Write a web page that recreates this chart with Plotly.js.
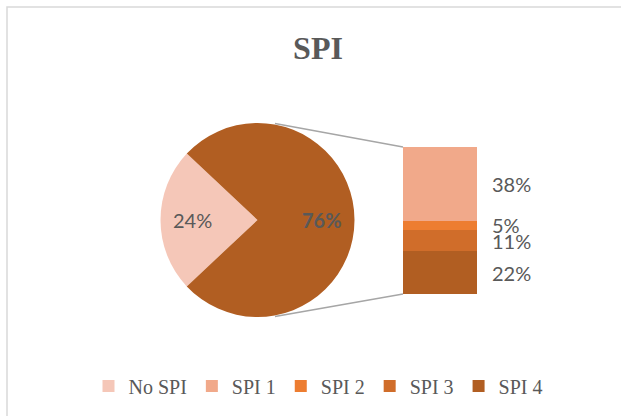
<!DOCTYPE html>
<html>
<head>
<meta charset="utf-8">
<script src="https://cdn.plot.ly/plotly-3.0.1.min.js"></script>
<style>html,body{margin:0;padding:0;background:#fff;}#chart{width:621px;height:416px;}</style>
</head>
<body>
<div id="chart"></div>
<script>
// ---- data ----
const pieLabels = ['No SPI', 'SPI'];
const pieValues = [24, 76];
const pieColors = ['#F5C7B8', '#B15E22'];

const barLabels = ['SPI 1', 'SPI 2', 'SPI 3', 'SPI 4'];
const barValues = [38, 5, 11, 22];
const barColors = ['#F1A98A', '#ED7D31', '#D06D2A', '#B15E22'];

const W = 621, H = 416;
const px = x => x / W;
const py = y => 1 - y / H;
const labelFont = {family: 'Lato, "Open Sans", sans-serif', size: 20, color: '#595959'};

// pie geometry (pixels)
const pieCx = 257.5, pieCy = 220, pieR = 97;
const pieTotal = pieValues.reduce((a, b) => a + b, 0);
const rotation = 360 * (0.75 - pieValues[0] / pieTotal / 2);

const traces = [];
traces.push({
  type: 'pie', labels: pieLabels, values: pieValues, sort: false,
  direction: 'clockwise', rotation: rotation,
  marker: {colors: pieColors, line: {width: 0}},
  textinfo: 'none', showlegend: false, hoverinfo: 'skip',
  domain: {x: [px(pieCx - pieR), px(pieCx + pieR)], y: [py(pieCy + pieR), py(pieCy - pieR)]}
});
// legend entry for No SPI (zero-height bar)
traces.push({type: 'bar', name: pieLabels[0], x: [0], y: [0], marker: {color: pieColors[0], line: {width: 0}}, hoverinfo: 'skip', width: 1});
// stacked bar (bottom to top: SPI 4, SPI 3, SPI 2, SPI 1)
for (let i = barLabels.length - 1; i >= 0; i--) {
  traces.push({
    type: 'bar', name: barLabels[i], x: [0], y: [barValues[i]],
    marker: {color: barColors[i], line: {width: 0}}, hoverinfo: 'skip', width: 1
  });
}
const order = [pieLabels[0]].concat(barLabels);
traces.forEach(t => { if (t.type === 'bar') t.legendrank = order.indexOf(t.name) + 1; });

const annotations = [];
// pie labels at slice mid-angles
let acc = 0;
pieValues.forEach((v, i) => {
  const midDeg = rotation + (acc + v / 2) / pieTotal * 360;
  acc += v;
  const a = midDeg * Math.PI / 180;
  const f = 0.67;
  annotations.push({
    xref: 'paper', yref: 'paper',
    x: px(pieCx + f * pieR * Math.sin(a)), y: py(pieCy - f * pieR * Math.cos(a)),
    xanchor: 'center', yanchor: 'middle', showarrow: false,
    text: Math.round(v / pieTotal * 100) + '%',
    font: Object.assign({}, labelFont, {weight: i === 1 ? 'bold' : 'normal'})
  });
});
// bar labels
const total = barValues.reduce((a, b) => a + b, 0);
let cum = 0;
for (let i = barLabels.length - 1; i >= 0; i--) {
  const mid = cum + barValues[i] / 2;
  cum += barValues[i];
  annotations.push({
    xref: 'x', yref: 'y', x: 0.5, y: mid, xanchor: 'left', yanchor: 'middle', xshift: 13,
    text: Math.round(barValues[i] / pieTotal * 100) + '%', showarrow: false, font: labelFont
  });
}

const layout = {
  width: W, height: H,
  margin: {l: 0, r: 0, t: 0, b: 0},
  paper_bgcolor: '#fff', plot_bgcolor: 'rgba(0,0,0,0)',
  title: {text: '<b>SPI</b>', x: px(318), xanchor: 'center', y: py(48), yanchor: 'middle',
          font: {family: '"Liberation Serif", serif', size: 32, color: '#595959'}},
  barmode: 'stack', bargap: 0,
  xaxis: {domain: [px(403), px(477)], range: [-0.5, 0.5], visible: false, fixedrange: true},
  yaxis: {domain: [py(294), py(147)], range: [0, total], visible: false, fixedrange: true},
  showlegend: true,
  legend: {orientation: 'h', x: px(318), xanchor: 'center', y: py(386), yanchor: 'middle',
           traceorder: 'normal', itemwidth: 30,
           font: {family: '"Liberation Serif", serif', size: 20, color: '#595959'}},
  annotations: annotations,
  shapes: [
    {type: 'rect', xref: 'paper', yref: 'paper', x0: px(7), x1: px(630), y0: py(430), y1: py(7),
     line: {color: '#D9D9D9', width: 1.5}},
    {type: 'line', xref: 'paper', yref: 'paper', x0: px(275), y0: py(123.5), x1: px(403), y1: py(147),
     line: {color: '#A6A6A6', width: 1.5}},
    {type: 'line', xref: 'paper', yref: 'paper', x0: px(275), y0: py(316.5), x1: px(403), y1: py(294),
     line: {color: '#A6A6A6', width: 1.5}}
  ]
};

Plotly.newPlot('chart', traces, layout, {staticPlot: true, displayModeBar: false});
</script>
</body>
</html>
